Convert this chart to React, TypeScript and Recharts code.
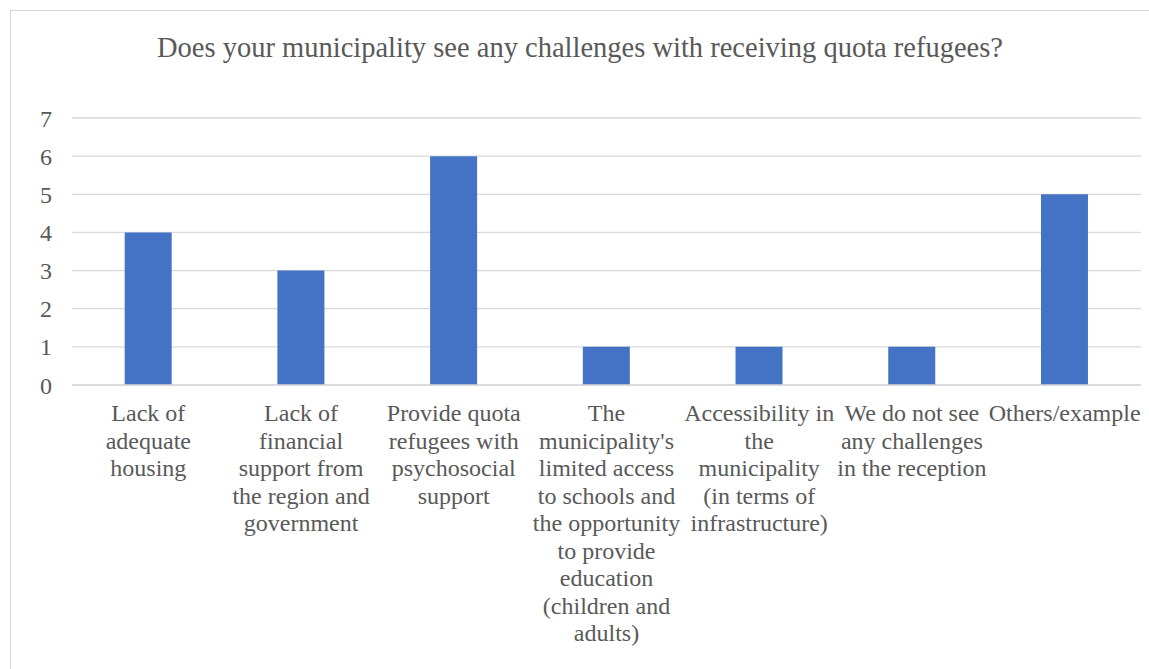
import { BarChart, Bar, XAxis, YAxis, CartesianGrid } from "recharts";

const TITLE = "Does your municipality see any challenges with receiving quota refugees?";

// category labels, wrapped the way the original chart wraps them
const CATEGORIES = [
  "Lack of\nadequate\nhousing",
  "Lack of\nfinancial\nsupport from\nthe region and\ngovernment",
  "Provide quota\nrefugees with\npsychosocial\nsupport",
  "The\nmunicipality's\nlimited access\nto schools and\nthe opportunity\nto provide\neducation\n(children and\nadults)",
  "Accessibility in\nthe\nmunicipality\n(in terms of\ninfrastructure)",
  "We do not see\nany challenges\nin the reception",
  "Others/example",
];
const COUNTS = [4, 3, 6, 1, 1, 1, 5];
const Y_TICKS = [0, 1, 2, 3, 4, 5, 6, 7];

const data = CATEGORIES.map((name, i) => ({ name, value: COUNTS[i] }));

const FONT = "'Liberation Serif', 'Times New Roman', serif";
const TXT = "#595959";

const CatTick = ({ x, y, payload }: any) => {
  const lines = String(payload.value).split("\n");
  return (
    <text x={x} y={y} textAnchor="middle" fill={TXT} fontFamily={FONT} fontSize={24}>
      {lines.map((l, i) => (
        <tspan key={i} x={x} dy={i === 0 ? 28 : 27.5}>{l}</tspan>
      ))}
    </text>
  );
};

export default function App() {
  return (
    <div style={{ position: "absolute", left: 0, top: 0, width: 1149, height: 669, overflow: "hidden", background: "#fff" }}>
      {/* chart frame */}
      <div style={{ position: "absolute", left: 10, top: 10, width: 1160, height: 680, border: "1px solid #d9d9d9" }} />
      <div style={{ position: "absolute", left: 0, top: 34, width: 1160, textAlign: "center", fontFamily: FONT,
        fontSize: 28.5, lineHeight: "28px", color: TXT, whiteSpace: "nowrap" }}>
        {TITLE}
      </div>
      <div style={{ position: "absolute", left: 0, top: 0 }}>
        <BarChart width={1149} height={669} data={data} barCategoryGap="34.5%"
          margin={{ top: 118, right: 8, bottom: 0, left: 0 }}>
          <CartesianGrid vertical={false} stroke="#d9d9d9" strokeWidth={1.3} />
          <XAxis dataKey="name" height={284} interval={0} axisLine={{ stroke: "#d9d9d9", strokeWidth: 1.3 }}
            tickLine={false} tick={<CatTick />} />
          <YAxis width={72} domain={[0, 7]} ticks={Y_TICKS} axisLine={false} tickLine={false}
            tickSize={0} tickMargin={20} tick={{ fill: TXT, fontSize: 24, fontFamily: FONT }} />
          <Bar dataKey="value" fill="#4472c4" isAnimationActive={false} />
        </BarChart>
      </div>
    </div>
  );
}
